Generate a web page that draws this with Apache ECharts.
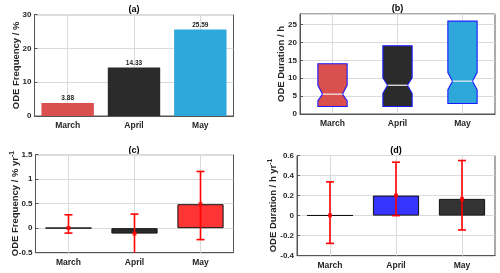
<!DOCTYPE html>
<html><head><meta charset="utf-8">
<script src="https://cdn.jsdelivr.net/npm/echarts@6/dist/echarts.min.js"></script>
<style>html,body{margin:0;padding:0;background:#fff}#c{width:500px;height:273px}</style>
</head><body><div id="c"></div>
<script>
// ---- data ----
const categories = ['March', 'April', 'May'];
// (a) ODE frequency (%)
const freqPct = [3.88, 14.33, 25.59];
// (b) ODE duration box statistics (h)
const durLow = [2.1, 2.1, 2.95];
const durHigh = [14.05, 19.1, 26.0];
const durMedian = [5.55, 8.05, 9.2];
const durNotchLow = [3.7, 5.8, 6.8];
const durNotchHigh = [8.05, 10.1, 11.6];
// (c) ODE frequency trend (% yr-1)
const freqTrend = [0.005, -0.11, 0.49];
const freqTrendLow = [-0.10, -0.55, -0.233];
const freqTrendHigh = [0.274, 0.288, 1.158];
// (d) ODE duration trend (h yr-1)
const durTrend = [0.003, 0.20, 0.167];
const durTrendLow = [-0.277, 0.0, -0.143];
const durTrendHigh = [0.337, 0.533, 0.55];
// tick settings
const yTicksA = { min: 0, max: 30, interval: 10 };
const yTicksB = { min: 0, max: 28, interval: 5 };
const yTicksC = { min: -0.5, max: 1.5, interval: 0.5 };
const yTicksD = { min: -0.4, max: 0.6, interval: 0.2 };

// ---- styles ----
const colorsA = ['#d9504f', '#2b2b2b', '#2ea7da'];
const colorsB = ['#d9504f', '#2b2b2b', '#2ea7da'];
const colorsC = ['#2b2b2b', '#2b2b2b', '#ff3535'];
const colorsD = ['#2b2b2b', '#3535ff', '#333333'];
const FONT = '"Liberation Sans", Arial, sans-serif';
const TXT = '#262626';
const GRIDC = '#dadada';
const FRAME = '#555';

const chart = echarts.init(document.getElementById('c'), null, { renderer: 'canvas' });

const grids = [
  { left: 34.5, top: 14.7, width: 199, height: 101.3 },
  { left: 300, top: 14, width: 195, height: 100 },
  { left: 35.5, top: 154.7, width: 198, height: 98 },
  { left: 297, top: 155.5, width: 198, height: 100.2 }
];

function xAx(i) {
  return {
    type: 'category', gridIndex: i, data: categories, boundaryGap: true,
    axisLine: { onZero: false, lineStyle: { color: FRAME, width: 1 } },
    axisTick: { show: false },
    splitLine: { show: false },
    axisLabel: { fontFamily: FONT, fontWeight: 'bold', fontSize: 8.5, color: TXT, margin: 5 }
  };
}
function yAx(i, t, name, gap) {
  const steps = (t.max - t.min) / t.interval;
  return Object.assign({
    type: 'value', gridIndex: i,
    name: name, nameLocation: 'middle', nameRotate: 90, nameGap: gap, nameMoveOverlap: false,
    nameTextStyle: { fontFamily: FONT, fontWeight: 'bold', fontSize: 9.5, color: TXT,
      rich: { sup: { fontFamily: FONT, fontWeight: 'bold', fontSize: 6.5, color: TXT, verticalAlign: 'top', padding: [0, 0, 6, 0] } } },
    axisLine: { show: true, onZero: false, lineStyle: { color: FRAME, width: 1 } },
    axisTick: { show: true, inside: true, length: 3, lineStyle: { color: FRAME } },
    splitLine: { show: true, lineStyle: { color: GRIDC, width: 1 } },
    axisLabel: { fontFamily: FONT, fontWeight: 'bold', fontSize: 8, color: TXT, margin: 3,
      showMaxLabel: Math.abs(steps - Math.round(steps)) < 1e-9 }
  }, t);
}
function vGrid(i) {
  return {
    type: 'line', xAxisIndex: i, yAxisIndex: i, data: [], z: 1, silent: true,
    markLine: { silent: true, z: 1, symbol: 'none', label: { show: false },
      lineStyle: { color: GRIDC, type: 'solid', width: 1 },
      data: categories.map(c => ({ xAxis: c })) }
  };
}
function errSeries(i, lo, hi) {
  return {
    type: 'custom', xAxisIndex: i, yAxisIndex: i, z: 5,
    data: categories.map((c, k) => [k, lo[k], hi[k]]),
    renderItem: function (params, api) {
      const cs = params.coordSys;
      const bottom = cs.y + cs.height, top = cs.y;
      const p1 = api.coord([api.value(0), api.value(1)]);
      const p2 = api.coord([api.value(0), api.value(2)]);
      const x = p1[0], cap = 4;
      let y1 = p1[1], y2 = p2[1];
      const ch = [];
      const st = { stroke: '#ff0000', lineWidth: 1.6 };
      const c1 = y1 > bottom, c2 = y2 < top;
      y1 = Math.min(y1, bottom); y2 = Math.max(y2, top);
      ch.push({ type: 'line', shape: { x1: x, y1: y1, x2: x, y2: y2 }, style: st });
      if (!c1) ch.push({ type: 'line', shape: { x1: x - cap, y1: y1, x2: x + cap, y2: y1 }, style: st });
      if (!c2) ch.push({ type: 'line', shape: { x1: x - cap, y1: y2, x2: x + cap, y2: y2 }, style: st });
      return { type: 'group', children: ch };
    }
  };
}
function ptSeries(i, vals) {
  return {
    type: 'scatter', xAxisIndex: i, yAxisIndex: i, z: 6, symbol: 'rect', symbolSize: 4,
    itemStyle: { color: '#ff0000' }, data: vals
  };
}

const option = {
  animation: false,
  backgroundColor: '#ffffff',
  grid: grids.map(g => Object.assign({ show: true, borderColor: FRAME, borderWidth: 1, backgroundColor: 'transparent', containLabel: false }, g)),
  xAxis: [xAx(0), xAx(1), xAx(2), xAx(3)],
  yAxis: [
    yAx(0, yTicksA, 'ODE Frequency / %', 13.5),
    yAx(1, yTicksB, 'ODE Duration / h', 13.3),
    yAx(2, yTicksC, 'ODE Frequency / % yr{sup|-1}', 13.5),
    yAx(3, yTicksD, 'ODE Duration / h yr{sup|-1}', 17)
  ],
  graphic: [
    { type: 'text', x: 134, y: 9.5, style: { text: '(a)', font: 'bold 9px ' + FONT, fill: '#000', align: 'center', verticalAlign: 'middle' } },
    { type: 'text', x: 397.5, y: 8.5, style: { text: '(b)', font: 'bold 9px ' + FONT, fill: '#000', align: 'center', verticalAlign: 'middle' } },
    { type: 'text', x: 134, y: 150.5, style: { text: '(c)', font: 'bold 9px ' + FONT, fill: '#000', align: 'center', verticalAlign: 'middle' } },
    { type: 'text', x: 396, y: 151, style: { text: '(d)', font: 'bold 9px ' + FONT, fill: '#000', align: 'center', verticalAlign: 'middle' } }
  ],
  series: [
    vGrid(0), vGrid(1), vGrid(2), vGrid(3),
    {
      type: 'bar', xAxisIndex: 0, yAxisIndex: 0, z: 3, barWidth: '79%',
      data: freqPct.map((v, k) => ({ value: v, itemStyle: { color: colorsA[k] } })),
      label: { show: true, position: 'top', distance: 1, fontFamily: FONT, fontWeight: 'bold', fontSize: 6.5, color: '#222',
        formatter: p => p.value.toFixed(2) }
    },
    {
      type: 'custom', xAxisIndex: 1, yAxisIndex: 1, z: 3,
      data: categories.map((c, k) => [k, durLow[k], durNotchLow[k], durMedian[k], durNotchHigh[k], durHigh[k]]),
      renderItem: function (params, api) {
        const k = api.value(0);
        const band = api.size([1, 0])[0];
        const hw = band * 0.225, ins = hw * 0.32;
        const P = v => api.coord([k, v]);
        const cx = P(0)[0];
        const yLo = P(api.value(1))[1], yNl = P(api.value(2))[1], yMd = P(api.value(3))[1], yNh = P(api.value(4))[1], yHi = P(api.value(5))[1];
        const pts = [
          [cx - hw, yLo], [cx + hw, yLo], [cx + hw, yNl], [cx + hw - ins, yMd], [cx + hw, yNh], [cx + hw, yHi],
          [cx - hw, yHi], [cx - hw, yNh], [cx - hw + ins, yMd], [cx - hw, yNl]
        ];
        return { type: 'group', children: [
          { type: 'polygon', shape: { points: pts }, style: { fill: colorsB[params.dataIndex], stroke: '#1a1aff', lineWidth: 1.1 } },
          { type: 'line', shape: { x1: cx - hw + ins, y1: yMd, x2: cx + hw - ins, y2: yMd }, style: { stroke: '#f2f2f2', lineWidth: 1.2 } }
        ] };
      }
    },
    {
      type: 'bar', xAxisIndex: 2, yAxisIndex: 2, z: 3, barWidth: '70%',
      data: freqTrend.map((v, k) => ({ value: v, itemStyle: { color: colorsC[k], borderColor: '#111', borderWidth: 1 } }))
    },
    errSeries(2, freqTrendLow, freqTrendHigh),
    ptSeries(2, freqTrend),
    {
      type: 'bar', xAxisIndex: 3, yAxisIndex: 3, z: 3, barWidth: '70%',
      data: durTrend.map((v, k) => ({ value: v, itemStyle: { color: colorsD[k], borderColor: '#111', borderWidth: 1 } }))
    },
    errSeries(3, durTrendLow, durTrendHigh),
    ptSeries(3, durTrend)
  ]
};
chart.setOption(option);
</script></body></html>
